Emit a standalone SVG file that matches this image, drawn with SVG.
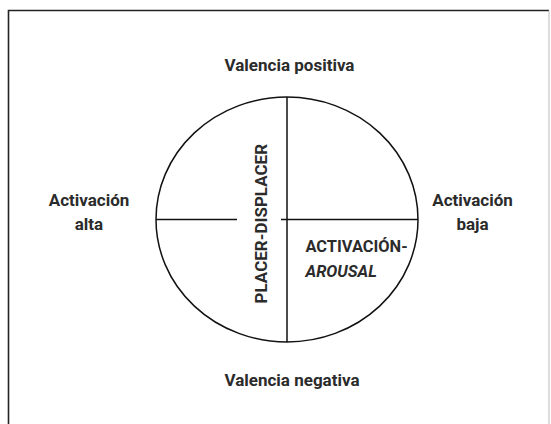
<svg xmlns="http://www.w3.org/2000/svg" width="551" height="424" viewBox="0 0 551 424">
<style>
.t{font-family:Roboto,"Liberation Sans",sans-serif;font-weight:700;font-size:17px;fill:#2b2b2b;text-anchor:middle}
.ln{stroke:#111;stroke-width:1.5;fill:none}
</style>
<rect width="551" height="424" fill="#fff"/>
<g id="frame">
<path d="M8.5,424 V10.5 H549" stroke="#222" stroke-width="1.6" fill="none"/>
<path d="M549,10.5 V424" stroke="#bbb" stroke-width="1" fill="none"/>
</g>
<g id="circle">
<ellipse class="ln" cx="287" cy="219.5" rx="131" ry="122.5"/>
</g>
<g id="connectors">
<line class="ln" x1="287" y1="97" x2="287" y2="342"/>
<line class="ln" x1="156" y1="219.5" x2="237" y2="219.5"/>
<line class="ln" x1="281" y1="219.5" x2="418" y2="219.5"/>
</g>
<g id="valencia-positiva"><text class="t" x="289.5" y="71">Valencia positiva</text></g>
<g id="valencia-negativa"><text class="t" x="292" y="386">Valencia negativa</text></g>
<g id="activacion-alta"><text class="t" x="89" y="206">Activación</text><text class="t" x="89" y="230">alta</text></g>
<g id="activacion-baja"><text class="t" x="472.5" y="206">Activación</text><text class="t" x="472.5" y="230">baja</text></g>
<g id="placer-displacer"><text class="t" transform="translate(267,223.7) rotate(-90)" x="0" y="0">PLACER-DISPLACER</text></g>
<g id="activacion-arousal">
<text class="t" x="305.5" y="252" style="text-anchor:start;font-size:16.4px">ACTIVACIÓN-</text>
<text class="t" x="305.5" y="277" style="text-anchor:start;font-size:16.4px;font-style:italic">AROUSAL</text>
</g>
</svg>
